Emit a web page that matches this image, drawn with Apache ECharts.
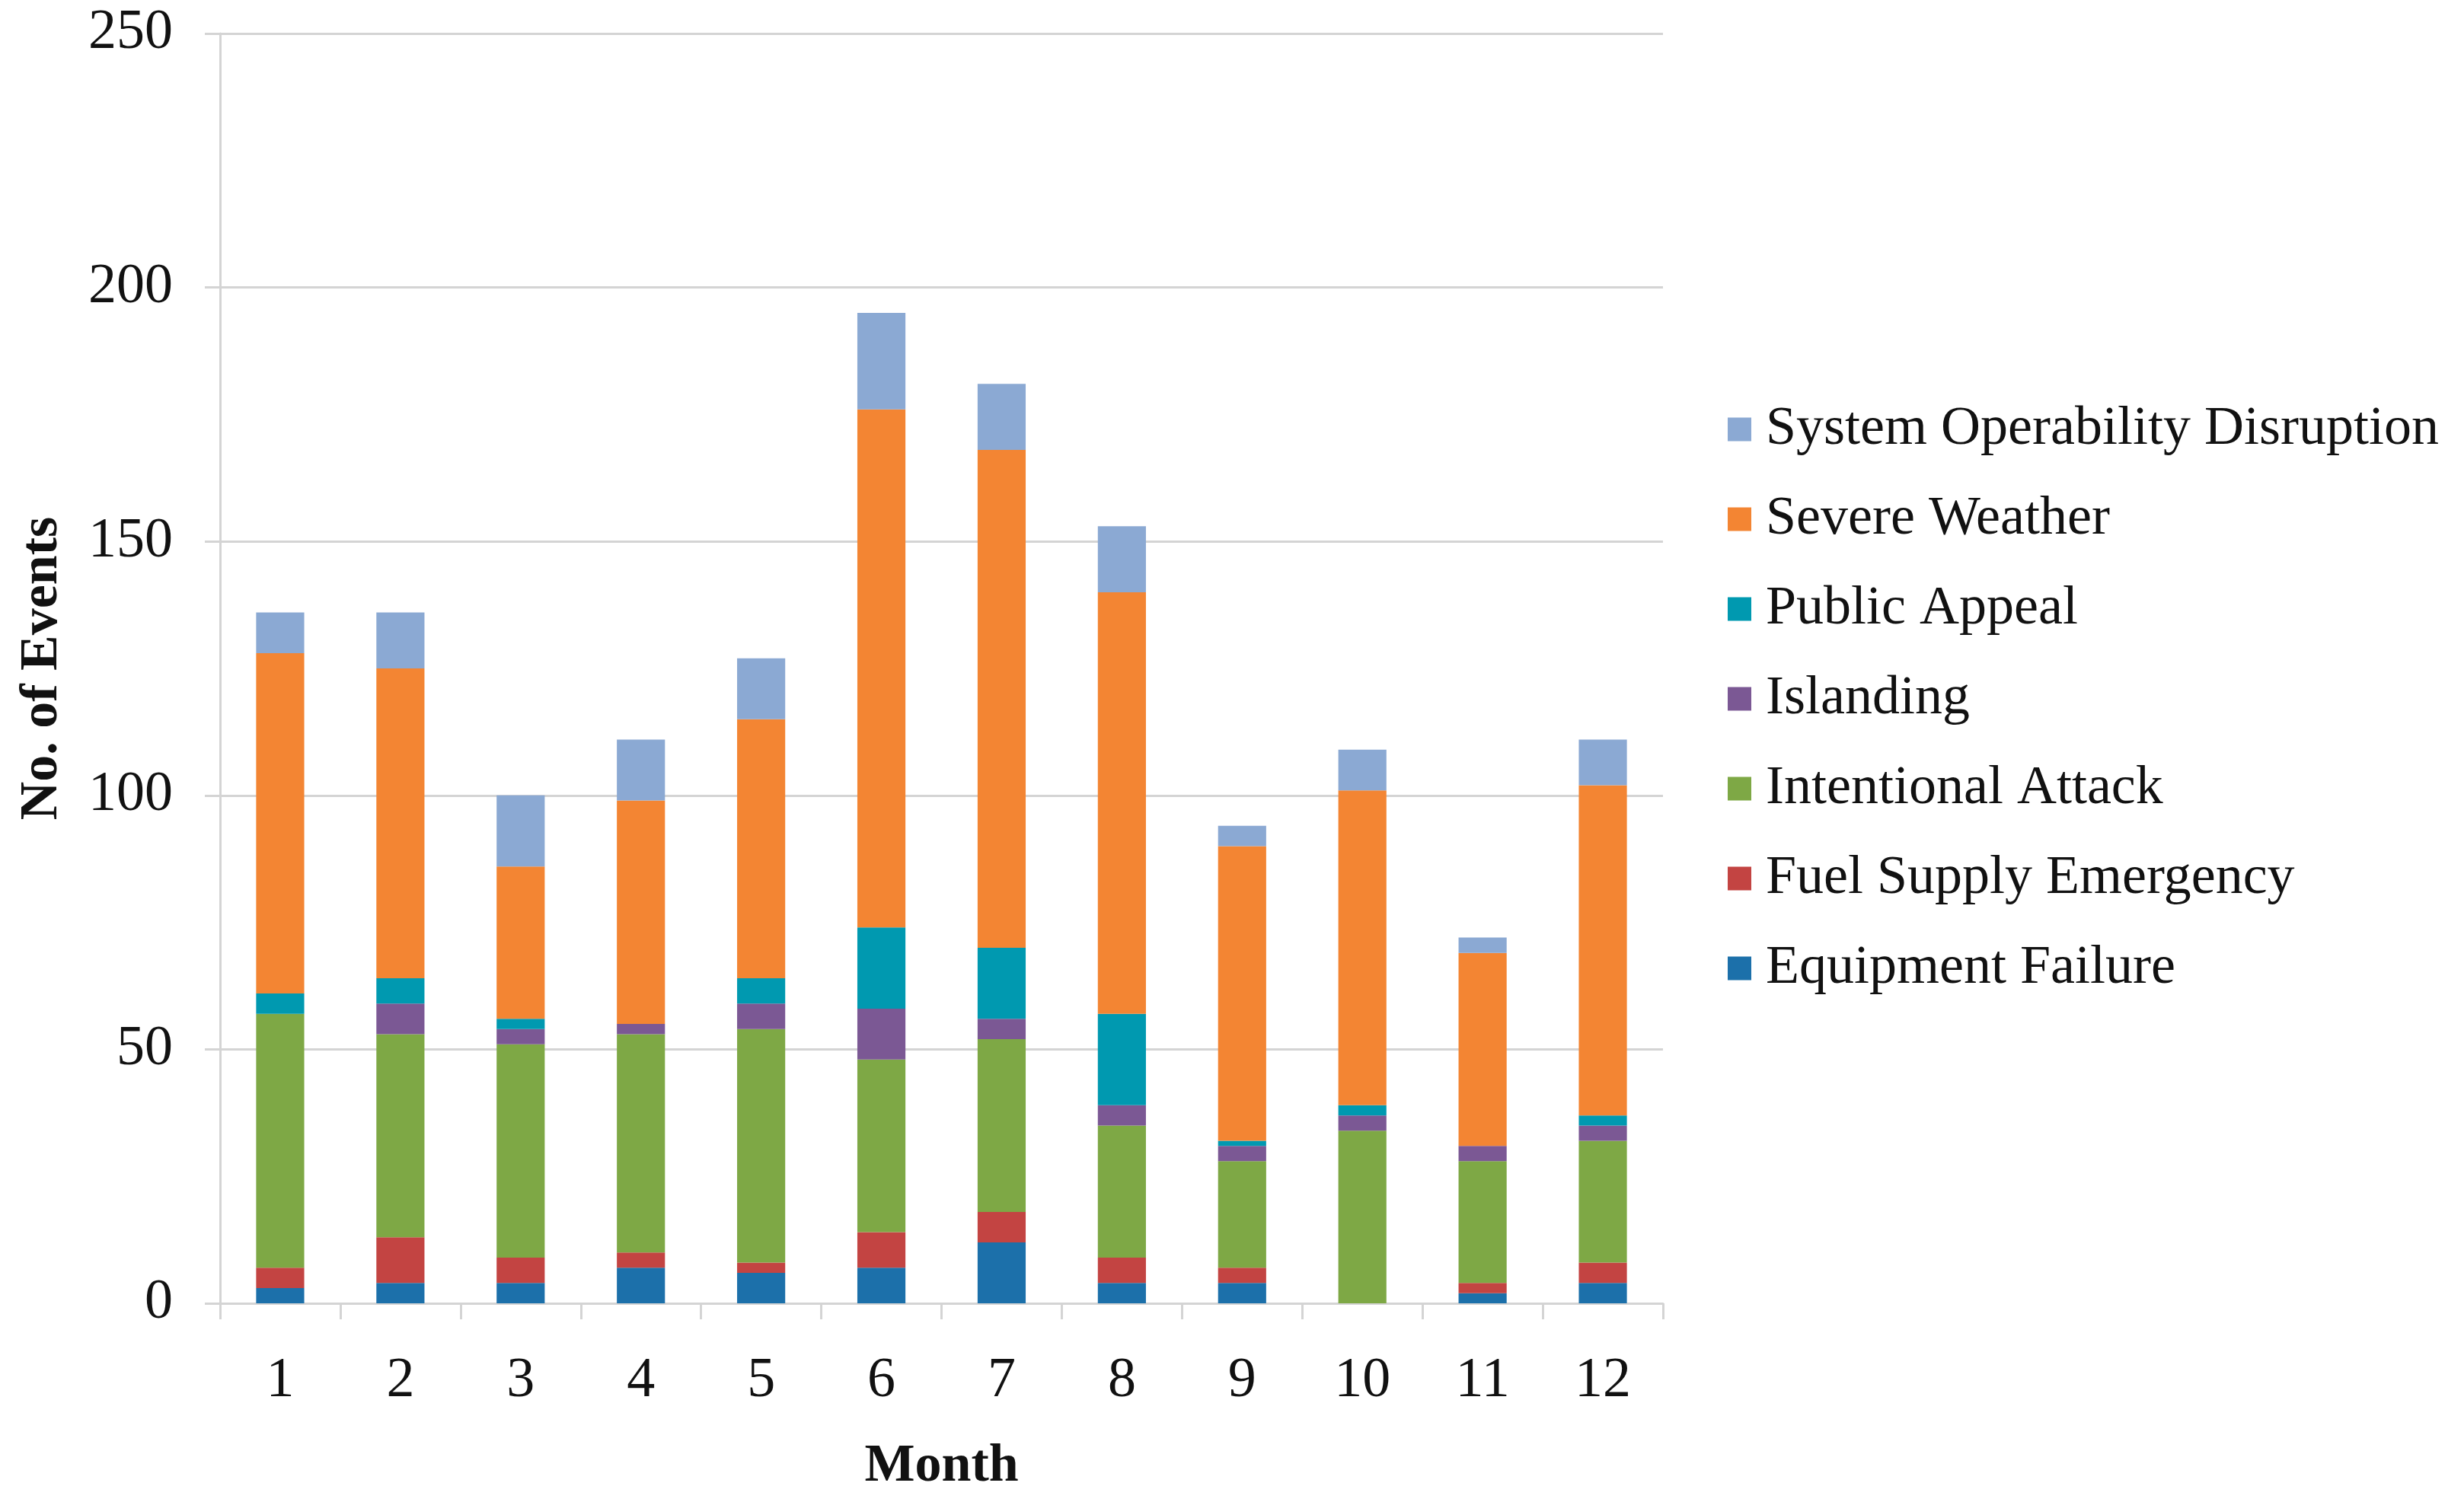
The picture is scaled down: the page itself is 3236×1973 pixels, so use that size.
<!DOCTYPE html>
<html>
<head>
<meta charset="utf-8">
<script src="https://cdn.jsdelivr.net/npm/echarts@6/dist/echarts.min.js"></script>
<style>
html,body{margin:0;padding:0;background:#fff;}
#chart{width:3236px;height:1973px;}
</style>
</head>
<body>
<div id="chart"></div>
<script>
const months = ['1','2','3','4','5','6','7','8','9','10','11','12'];
const equipmentFailure = [3,4,4,7,6,7,12,4,4,0,2,4];
const fuelSupplyEmergency = [4,9,5,3,2,7,6,5,3,0,2,4];
const intentionalAttack = [50,40,42,43,46,34,34,26,21,34,24,24];
const islanding = [0,6,3,2,5,10,4,4,3,3,3,3];
const publicAppeal = [4,5,2,0,5,16,14,18,1,2,0,2];
const severeWeather = [67,61,30,44,51,102,98,83,58,62,38,65];
const systemOperabilityDisruption = [8,11,14,12,12,19,13,13,4,8,3,9];
const yTicks = [0,50,100,150,200,250];

const seriesDefs = [
  {name:'Equipment Failure', data:equipmentFailure, color:'#1C70AA'},
  {name:'Fuel Supply Emergency', data:fuelSupplyEmergency, color:'#C34442'},
  {name:'Intentional Attack', data:intentionalAttack, color:'#7EA845'},
  {name:'Islanding', data:islanding, color:'#7B5894'},
  {name:'Public Appeal', data:publicAppeal, color:'#0099B0'},
  {name:'Severe Weather', data:severeWeather, color:'#F38533'},
  {name:'System Operability Disruption', data:systemOperabilityDisruption, color:'#8BA9D3'}
];

const serif = '"Liberation Serif", "Times New Roman", serif';
const chart = echarts.init(document.getElementById('chart'));
chart.setOption({
  backgroundColor:'#ffffff',
  animation:false,
  grid:{left:289, right:1052, top:44, bottom:261, containLabel:false},
  legend:{
    orient:'vertical',
    left:2264,
    top:523,
    itemWidth:31,
    itemHeight:31,
    itemGap:46,
    icon:'rect',
    data: seriesDefs.map(s=>s.name).reverse(),
    textStyle:{fontFamily:serif, fontSize:72, lineHeight:72, color:'#111', padding:[0,0,0,14]}
  },
  xAxis:{
    type:'category',
    data:months,
    name:'Month',
    nameLocation:'middle',
    nameGap:180,
    nameTextStyle:{fontFamily:serif, fontSize:70, fontWeight:'bold', color:'#111'},
    axisLine:{lineStyle:{color:'#D4D4D4', width:3}},
    axisTick:{show:true, length:21, lineStyle:{color:'#D4D4D4', width:3}},
    axisLabel:{fontFamily:serif, fontSize:74, color:'#111', margin:66}
  },
  yAxis:{
    type:'value',
    min:0, max:250, interval:50,
    name:'No. of Events',
    nameLocation:'middle',
    nameGap:198,
    nameTextStyle:{fontFamily:serif, fontSize:70, fontWeight:'bold', color:'#111'},
    axisLine:{show:true, lineStyle:{color:'#D4D4D4', width:3}},
    axisTick:{show:true, length:20, lineStyle:{color:'#D4D4D4', width:3}},
    axisLabel:{fontFamily:serif, fontSize:74, color:'#111', margin:62,
      formatter:v=>yTicks.includes(v)?String(v):''},
    splitLine:{show:true, lineStyle:{color:'#D4D4D4', width:3}}
  },
  series: seriesDefs.map(s=>({
    name:s.name,
    type:'bar',
    stack:'total',
    barWidth:'40%',
    data:s.data,
    itemStyle:{color:s.color},
    emphasis:{disabled:true}
  }))
});
</script>
</body>
</html>
